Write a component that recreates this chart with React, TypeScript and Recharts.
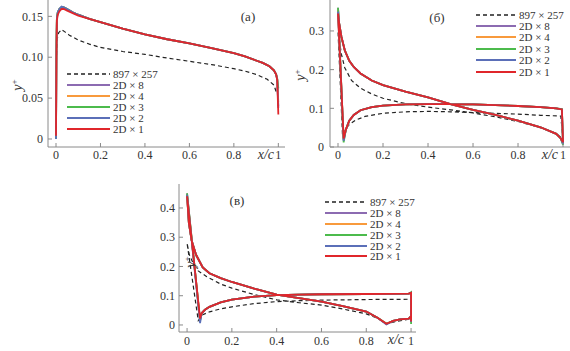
import React from 'react';
import { LineChart, Line, XAxis, YAxis } from 'recharts';

// series, in legend order
const seriesNames = ['897 × 257', '2D × 8', '2D × 4', '2D × 3', '2D × 2', '2D × 1'];
const seriesColors = ['#222222', '#8c6bb1', '#f89a3c', '#4cbb4c', '#5b6fb8', '#e0262b'];

const xTicks = [0, 0.2, 0.4, 0.6, 0.8, 1];

// panel (a)
const aX = [0, 0.002, 0.004, 0.008, 0.015, 0.025, 0.035, 0.05, 0.075, 0.1, 0.15, 0.2, 0.25, 0.3, 0.4, 0.5, 0.6, 0.7, 0.8, 0.85, 0.9, 0.93, 0.96, 0.98, 0.99, 0.995, 1.0];
const aD8 = [0.0, 0.115, 0.148, 0.155, 0.159, 0.161, 0.161, 0.159, 0.155, 0.152, 0.147, 0.143, 0.139, 0.135, 0.128, 0.122, 0.117, 0.111, 0.105, 0.101, 0.096, 0.093, 0.089, 0.084, 0.079, 0.073, 0.04];
const aD4 = [0.0, 0.12, 0.149, 0.155, 0.159, 0.161, 0.161, 0.159, 0.155, 0.152, 0.147, 0.143, 0.139, 0.135, 0.128, 0.122, 0.117, 0.111, 0.105, 0.101, 0.096, 0.093, 0.089, 0.084, 0.079, 0.073, 0.045];
const aD3 = [0.0, 0.115, 0.149, 0.155, 0.159, 0.1615, 0.161, 0.159, 0.155, 0.152, 0.147, 0.143, 0.139, 0.135, 0.128, 0.122, 0.117, 0.111, 0.105, 0.101, 0.096, 0.093, 0.089, 0.084, 0.079, 0.074, 0.062];
const aD2 = [0.0, 0.11, 0.148, 0.155, 0.159, 0.162, 0.161, 0.159, 0.155, 0.152, 0.147, 0.143, 0.139, 0.135, 0.128, 0.122, 0.117, 0.111, 0.105, 0.101, 0.096, 0.093, 0.089, 0.084, 0.079, 0.073, 0.038];
const aD1 = [0.004, 0.1, 0.145, 0.152, 0.156, 0.159, 0.159, 0.157, 0.154, 0.151, 0.147, 0.143, 0.139, 0.135, 0.128, 0.122, 0.117, 0.111, 0.105, 0.101, 0.096, 0.093, 0.089, 0.084, 0.079, 0.072, 0.03];
const aRefX = [0, 0.002, 0.005, 0.012, 0.025, 0.04, 0.06, 0.1, 0.15, 0.2, 0.3, 0.4, 0.5, 0.6, 0.7, 0.8, 0.85, 0.9, 0.95, 0.98, 0.99];
const aRefY = [0.06, 0.1, 0.122, 0.13, 0.134, 0.131, 0.127, 0.121, 0.116, 0.112, 0.107, 0.1035, 0.099, 0.095, 0.091, 0.086, 0.083, 0.079, 0.073, 0.066, 0.058];

// panel (б): trailing edge -> upper -> leading edge -> lower -> trailing edge
const bX = [1.0, 0.99, 0.97, 0.9, 0.8, 0.7, 0.6, 0.5, 0.4, 0.3, 0.2, 0.15, 0.1, 0.07, 0.05, 0.03, 0.015, 0.005, 0.0, 0.025, 0.035, 0.05, 0.07, 0.1, 0.15, 0.2, 0.3, 0.4, 0.5, 0.6, 0.7, 0.8, 0.9, 0.97, 0.995, 1.0];
const bD8 = [0.01, 0.022, 0.034, 0.051, 0.068, 0.083, 0.096, 0.111, 0.128, 0.143, 0.16, 0.172, 0.19, 0.207, 0.223, 0.25, 0.285, 0.32, 0.36, 0.018, 0.045, 0.068, 0.083, 0.095, 0.103, 0.107, 0.11, 0.111, 0.111, 0.11, 0.108, 0.106, 0.103, 0.1, 0.097, 0.01];
const bD4 = [0.01, 0.022, 0.034, 0.051, 0.068, 0.083, 0.096, 0.111, 0.128, 0.143, 0.16, 0.172, 0.19, 0.207, 0.223, 0.25, 0.285, 0.32, 0.355, 0.02, 0.045, 0.068, 0.083, 0.095, 0.103, 0.107, 0.11, 0.111, 0.111, 0.11, 0.108, 0.106, 0.103, 0.1, 0.097, 0.01];
const bD3 = [0.005, 0.022, 0.034, 0.051, 0.068, 0.083, 0.096, 0.111, 0.128, 0.143, 0.16, 0.172, 0.19, 0.207, 0.223, 0.25, 0.285, 0.32, 0.36, 0.012, 0.045, 0.068, 0.083, 0.095, 0.103, 0.107, 0.11, 0.111, 0.111, 0.11, 0.108, 0.106, 0.103, 0.1, 0.098, 0.005];
const bD2 = [0.008, 0.022, 0.034, 0.051, 0.068, 0.083, 0.096, 0.111, 0.128, 0.143, 0.16, 0.172, 0.19, 0.207, 0.223, 0.25, 0.285, 0.32, 0.35, 0.016, 0.045, 0.068, 0.083, 0.095, 0.103, 0.107, 0.11, 0.111, 0.111, 0.11, 0.108, 0.106, 0.103, 0.1, 0.097, 0.008];
const bD1 = [0.012, 0.022, 0.034, 0.051, 0.068, 0.083, 0.096, 0.111, 0.128, 0.143, 0.16, 0.172, 0.19, 0.207, 0.223, 0.25, 0.285, 0.32, 0.345, 0.022, 0.045, 0.068, 0.083, 0.095, 0.103, 0.107, 0.11, 0.111, 0.111, 0.11, 0.108, 0.106, 0.103, 0.1, 0.097, 0.012];
const bRefX = [0.99, 0.97, 0.9, 0.8, 0.7, 0.6, 0.5, 0.4, 0.3, 0.2, 0.15, 0.1, 0.06, 0.03, 0.015, 0.005, 0.0, 0.02, 0.035, 0.05, 0.08, 0.12, 0.2, 0.3, 0.4, 0.5, 0.6, 0.7, 0.8, 0.9, 0.99, 1.0];
const bRefY = [0.025, 0.035, 0.05, 0.066, 0.078, 0.088, 0.096, 0.103, 0.112, 0.126, 0.137, 0.152, 0.172, 0.205, 0.24, 0.28, 0.3, 0.03, 0.048, 0.058, 0.07, 0.079, 0.087, 0.091, 0.092, 0.091, 0.089, 0.087, 0.085, 0.082, 0.08, 0.02];

// panel (в)
const cX = [1.0, 0.99, 0.95, 0.92, 0.89, 0.85, 0.8, 0.7, 0.6, 0.5, 0.4, 0.3, 0.2, 0.15, 0.1, 0.07, 0.04, 0.02, 0.008, 0.0, 0.058, 0.065, 0.08, 0.1, 0.15, 0.2, 0.3, 0.4, 0.5, 0.6, 0.8, 0.99, 1.0, 1.0];
const cD8 = [0.03, 0.022, 0.019, 0.014, 0.004, 0.025, 0.046, 0.064, 0.08, 0.092, 0.104, 0.124, 0.147, 0.16, 0.177, 0.197, 0.24, 0.29, 0.35, 0.45, 0.016, 0.04, 0.052, 0.062, 0.077, 0.087, 0.097, 0.102, 0.104, 0.105, 0.106, 0.107, 0.11, 0.012];
const cD4 = [0.03, 0.022, 0.019, 0.014, 0.004, 0.025, 0.046, 0.064, 0.08, 0.092, 0.104, 0.124, 0.147, 0.16, 0.177, 0.197, 0.24, 0.29, 0.35, 0.445, 0.018, 0.04, 0.052, 0.062, 0.077, 0.087, 0.097, 0.102, 0.104, 0.105, 0.106, 0.107, 0.11, 0.012];
const cD3 = [0.03, 0.022, 0.019, 0.014, 0.004, 0.025, 0.046, 0.064, 0.08, 0.092, 0.104, 0.124, 0.147, 0.16, 0.177, 0.197, 0.24, 0.29, 0.35, 0.45, 0.014, 0.04, 0.052, 0.062, 0.077, 0.087, 0.097, 0.102, 0.104, 0.105, 0.106, 0.107, 0.112, 0.003];
const cD2 = [0.03, 0.022, 0.019, 0.014, 0.002, 0.025, 0.046, 0.064, 0.08, 0.092, 0.104, 0.124, 0.147, 0.16, 0.177, 0.197, 0.24, 0.29, 0.35, 0.445, 0.006, 0.04, 0.052, 0.062, 0.077, 0.087, 0.097, 0.102, 0.104, 0.105, 0.106, 0.107, 0.11, 0.01];
const cD1 = [0.03, 0.022, 0.019, 0.014, 0.004, 0.025, 0.046, 0.064, 0.08, 0.092, 0.104, 0.124, 0.147, 0.16, 0.177, 0.197, 0.24, 0.29, 0.35, 0.44, 0.022, 0.04, 0.052, 0.062, 0.077, 0.087, 0.097, 0.102, 0.104, 0.105, 0.106, 0.107, 0.11, 0.012];
const cRefX = [0.99, 0.97, 0.93, 0.89, 0.86, 0.8, 0.7, 0.6, 0.5, 0.4, 0.3, 0.2, 0.15, 0.088, 0.05, 0.028, 0.01, 0.0, 0.05, 0.07, 0.1, 0.15, 0.2, 0.3, 0.4, 0.5, 0.6, 0.8, 0.99];
const cRefY = [0.02, 0.017, 0.012, 0.004, 0.02, 0.038, 0.054, 0.068, 0.076, 0.086, 0.104, 0.126, 0.14, 0.165, 0.185, 0.21, 0.24, 0.28, 0.015, 0.035, 0.045, 0.055, 0.062, 0.073, 0.08, 0.083, 0.085, 0.087, 0.088];

const FONT = '"Liberation Serif", "DejaVu Serif", serif';

const zip = (xs: number[], ys: number[]) => xs.map((x, i) => ({ x, y: ys[i] }));

const fmtX = (v: number) => (v === 0 ? '0' : v === 1 ? '1' : v.toFixed(1));

type PanelProps = {
  left: number;
  top: number;
  width: number;
  height: number;
  margin: { top: number; right: number; bottom: number; left: number };
  yWidth: number;
  xHeight: number;
  xDomain: [number, number];
  yDomain: [number, number];
  yTicks: number[];
  yDigits: number;
  yTickMargin: number;
  xTickMargin: number;
  series: { x: number; y: number }[][];
};

const Panel = (p: PanelProps) => (
  <div style={{ position: 'absolute', left: p.left, top: p.top }}>
    <LineChart width={p.width} height={p.height} margin={p.margin}>
      <XAxis
        type="number"
        dataKey="x"
        domain={p.xDomain}
        ticks={xTicks}
        allowDataOverflow
        tickFormatter={fmtX}
        height={p.xHeight}
        stroke="#8a8a8a"
        tickSize={-4}
        tickMargin={p.xTickMargin}
        tick={{ fill: '#333', fontSize: 12, fontFamily: FONT }}
      />
      <YAxis
        type="number"
        dataKey="y"
        domain={p.yDomain}
        ticks={p.yTicks}
        allowDataOverflow
        tickFormatter={(v: number) => (v === 0 ? '0' : v.toFixed(p.yDigits))}
        width={p.yWidth}
        stroke="#8a8a8a"
        tickSize={-4}
        tickMargin={p.yTickMargin}
        tick={{ fill: '#333', fontSize: 12, fontFamily: FONT }}
      />
      {p.series.map((d, i) => (
        <Line
          key={seriesNames[i]}
          data={d}
          dataKey="y"
          type="linear"
          stroke={seriesColors[i]}
          strokeWidth={i === 0 ? 1.2 : 1.8}
          strokeDasharray={i === 0 ? '4 3' : undefined}
          dot={false}
          isAnimationActive={false}
        />
      ))}
    </LineChart>
  </div>
);

const LegendBlock = ({ left, top, lineLen, row }: { left: number; top: number; lineLen: number; row: number }) => (
  <div style={{ position: 'absolute', left, top, fontFamily: FONT, fontSize: 11, color: '#333' }}>
    {seriesNames.map((n, i) => (
      <div key={n} style={{ display: 'flex', alignItems: 'center', height: row, whiteSpace: 'nowrap' }}>
        <svg width={lineLen} height={4} style={{ display: 'block' }}>
          <line
            x1={0}
            y1={2}
            x2={lineLen}
            y2={2}
            stroke={seriesColors[i]}
            strokeWidth={i === 0 ? 1.3 : 2}
            strokeDasharray={i === 0 ? '4 3' : undefined}
          />
        </svg>
        <span style={{ marginLeft: 3 }}>{n}</span>
      </div>
    ))}
  </div>
);

const Tag = ({ x, y, children, rotate, size = 13 }: { x: number; y: number; children: React.ReactNode; rotate?: boolean; size?: number }) => (
  <div
    style={{
      position: 'absolute',
      left: x,
      top: y,
      transform: `translate(-50%, -50%)${rotate ? ' rotate(-90deg)' : ''}`,
      fontFamily: FONT,
      fontSize: size,
      color: '#333',
      whiteSpace: 'nowrap',
      lineHeight: 1,
    }}
  >
    {children}
  </div>
);

const YLabel = () => (
  <span>
    <i>y</i>
    <sup style={{ fontSize: 9 }}>+</sup>
  </span>
);

const XLabel = ({ right, y }: { right: number; y: number }) => (
  <div
    style={{
      position: 'absolute',
      left: right - 30,
      width: 30,
      textAlign: 'right',
      top: y - 7,
      fontFamily: FONT,
      fontStyle: 'italic',
      fontSize: 14,
      lineHeight: '14px',
      color: '#333',
    }}
  >
    x/c
  </div>
);

export default function App() {
  const aSeries = [zip(aRefX, aRefY), zip(aX, aD8), zip(aX, aD4), zip(aX, aD3), zip(aX, aD2), zip(aX, aD1)];
  const bSeries = [zip(bRefX, bRefY), zip(bX, bD8), zip(bX, bD4), zip(bX, bD3), zip(bX, bD2), zip(bX, bD1)];
  const cSeries = [zip(cRefX, cRefY), zip(cX, cD8), zip(cX, cD4), zip(cX, cD3), zip(cX, cD2), zip(cX, cD1)];

  return (
    <div style={{ position: 'absolute', left: 0, top: 0, width: 570, height: 351, background: '#fff', overflow: 'hidden' }}>
      <Panel
        left={0}
        top={0}
        width={290}
        height={175}
        margin={{ top: 0, right: 5, bottom: 0, left: 0 }}
        yWidth={48}
        xHeight={28}
        xDomain={[-0.036, 1.03]}
        yDomain={[-0.0098, 0.17]}
        yTicks={[0, 0.05, 0.1, 0.15]}
        yDigits={2}
        yTickMargin={9}
        xTickMargin={7}
        series={aSeries}
      />
      <Panel
        left={285}
        top={0}
        width={285}
        height={175}
        margin={{ top: 0, right: 0, bottom: 0, left: 0 }}
        yWidth={45}
        xHeight={28}
        xDomain={[-0.0356, 1.031]}
        yDomain={[0, 0.38]}
        yTicks={[0, 0.1, 0.2, 0.3]}
        yDigits={1}
        yTickMargin={10}
        xTickMargin={7}
        series={bSeries}
      />
      <Panel
        left={140}
        top={175}
        width={300}
        height={176}
        margin={{ top: 9, right: 24, bottom: 0, left: 0 }}
        yWidth={39}
        xHeight={19}
        xDomain={[-0.036, 1.022]}
        yDomain={[-0.024, 0.482]}
        yTicks={[0, 0.1, 0.2, 0.3, 0.4]}
        yDigits={1}
        yTickMargin={8}
        xTickMargin={8}
        series={cSeries}
      />

      <LegendBlock left={67} top={68} lineLen={43} row={11} />
      <LegendBlock left={476} top={9} lineLen={40} row={11.4} />
      <LegendBlock left={325} top={197} lineLen={42} row={10.8} />

      <Tag x={248} y={16}>(a)</Tag>
      <Tag x={437} y={17}>(б)</Tag>
      <Tag x={237} y={200}>(в)</Tag>

      <Tag x={17} y={85} rotate size={14}>
        <YLabel />
      </Tag>
      <Tag x={300} y={75} rotate size={14}>
        <YLabel />
      </Tag>
      <Tag x={190} y={262} rotate size={14}>
        <YLabel />
      </Tag>

      <XLabel right={274} y={155} />
      <XLabel right={558} y={155} />
      <XLabel right={404} y={340} />
    </div>
  );
}
